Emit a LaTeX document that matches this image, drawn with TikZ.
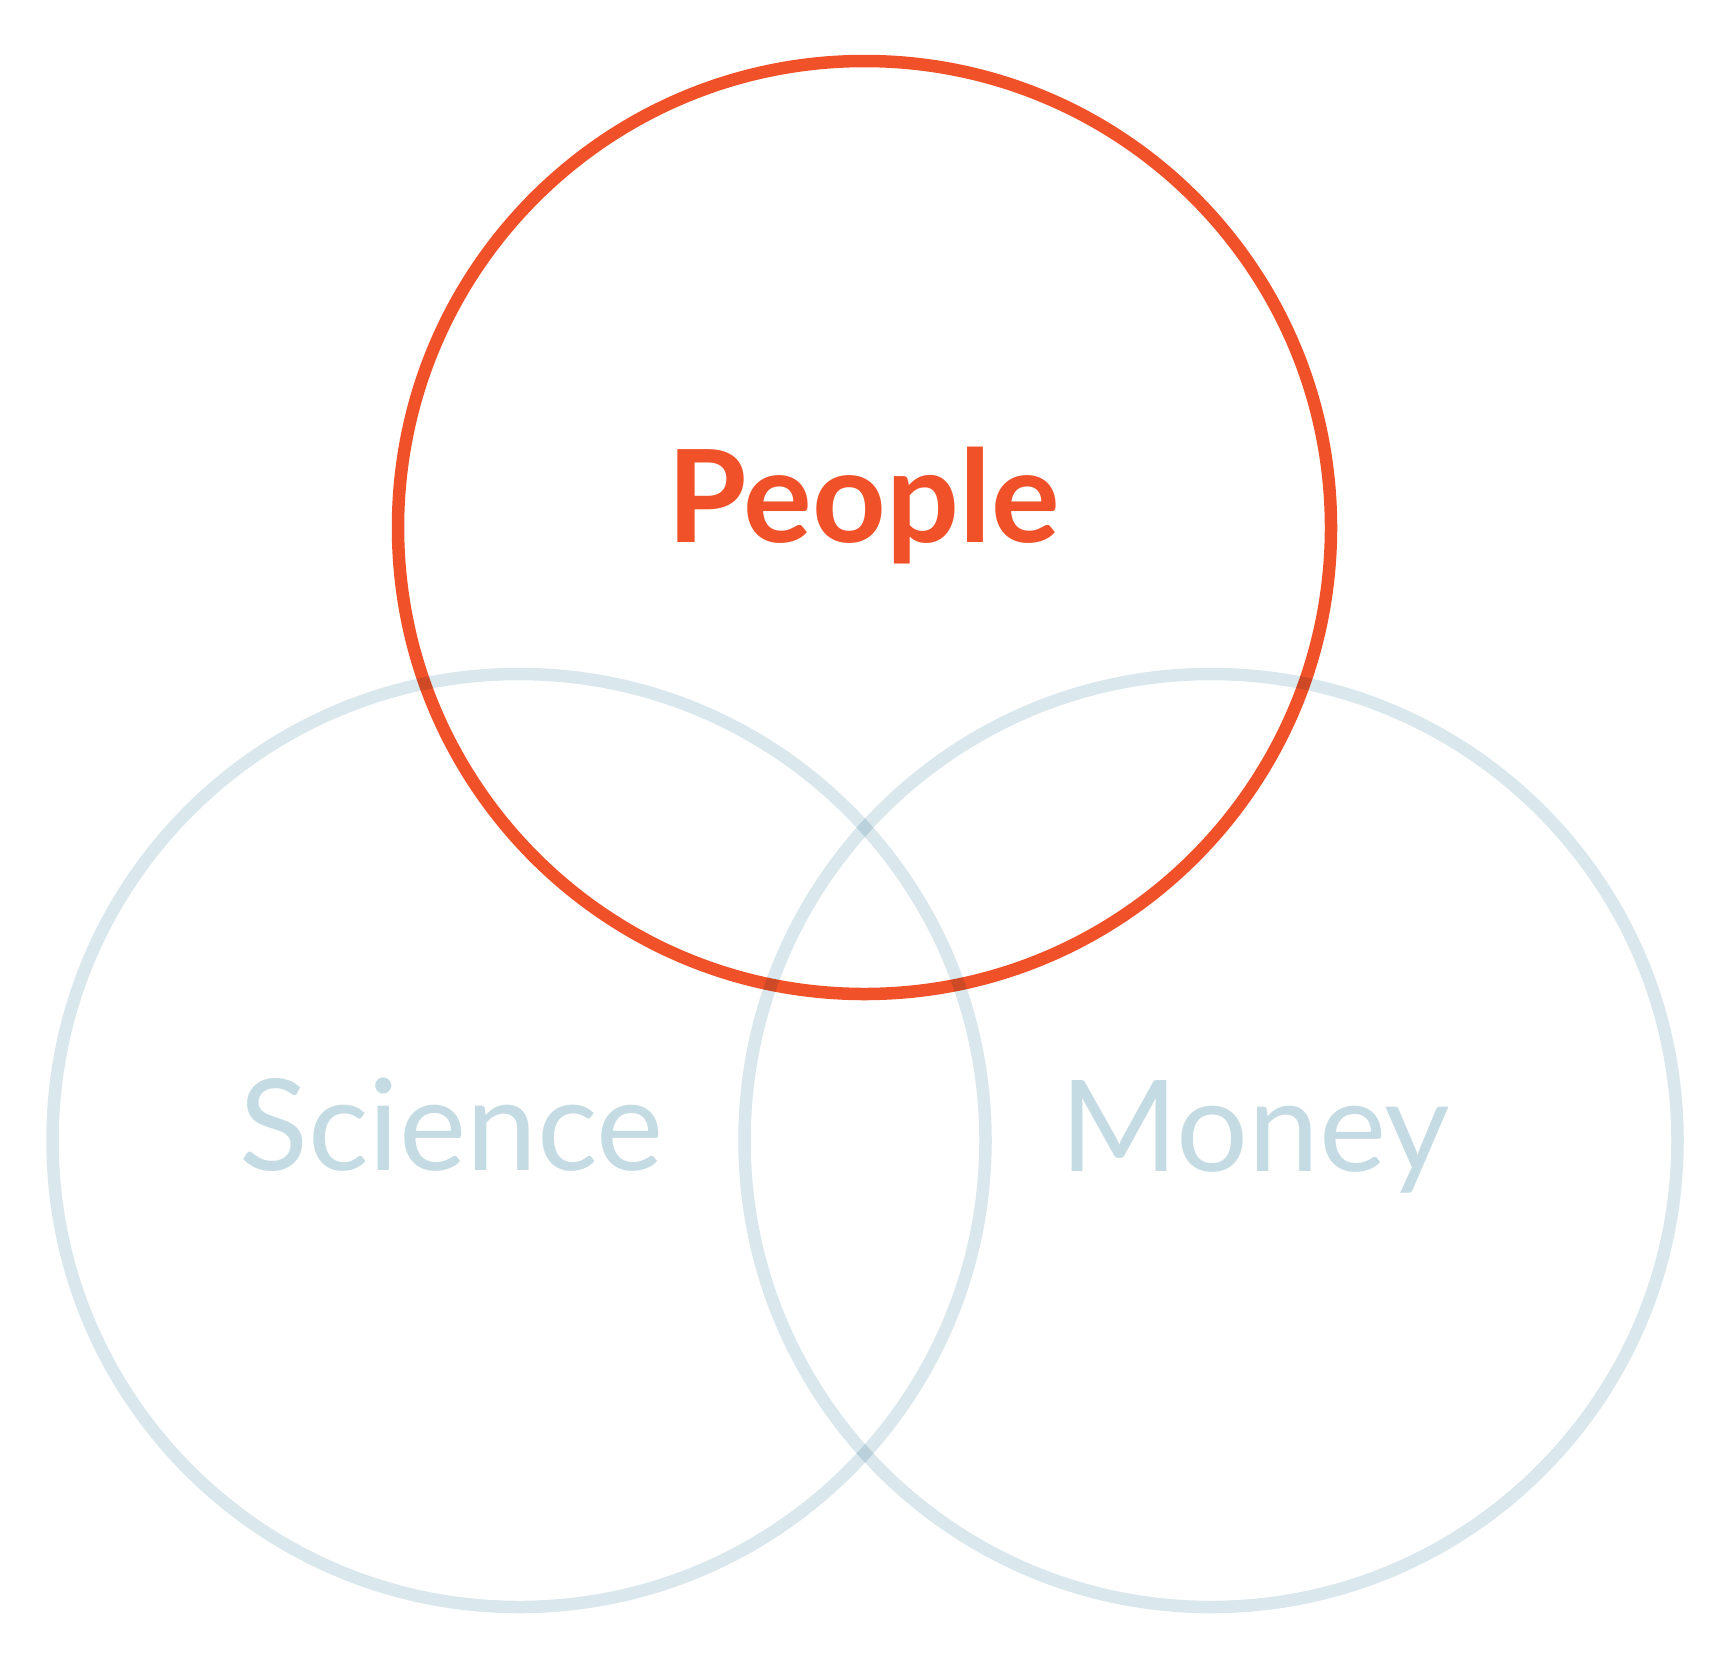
\documentclass[tikz,border=0pt]{standalone}
\usepackage{fontspec}
\setmainfont{Lato}
\definecolor{peopleorange}{HTML}{F15129}
\definecolor{paleblue}{HTML}{C5DBE3}
\definecolor{ringblue}{HTML}{DAE7ED}
\tikzset{
  ring/.style={draw, line width=12.5pt},
  peoplering/.style={ring, draw=peopleorange},
  bluering/.style={ring, draw=ringblue},
  label/.style={anchor=base, inner sep=0pt, font=\fontsize{127}{130}\selectfont}
}
\begin{document}
\begin{tikzpicture}[x=1pt,y=-1pt]
\useasboundingbox (0,0) rectangle (1734,1655);
\coordinate (pc) at (864.5,527.5);
\coordinate (sc) at (519,1140.5);
\coordinate (mc) at (1211,1140.5);
\begin{scope}[blend mode=multiply]
\draw[bluering] (sc) circle[radius=466.5];
\draw[bluering] (mc) circle[radius=466.5];
\draw[peoplering] (pc) circle[radius=466.5];
\end{scope}
\node[label, text=peopleorange, font=\fontsize{128.5}{130}\selectfont\bfseries] (people) at (863.5,542) {People};
\node[label, text=paleblue] (science) at (451.5,1170) {Science};
\node[label, text=paleblue] (money) at (1255,1171) {Money};
\end{tikzpicture}
\end{document}
